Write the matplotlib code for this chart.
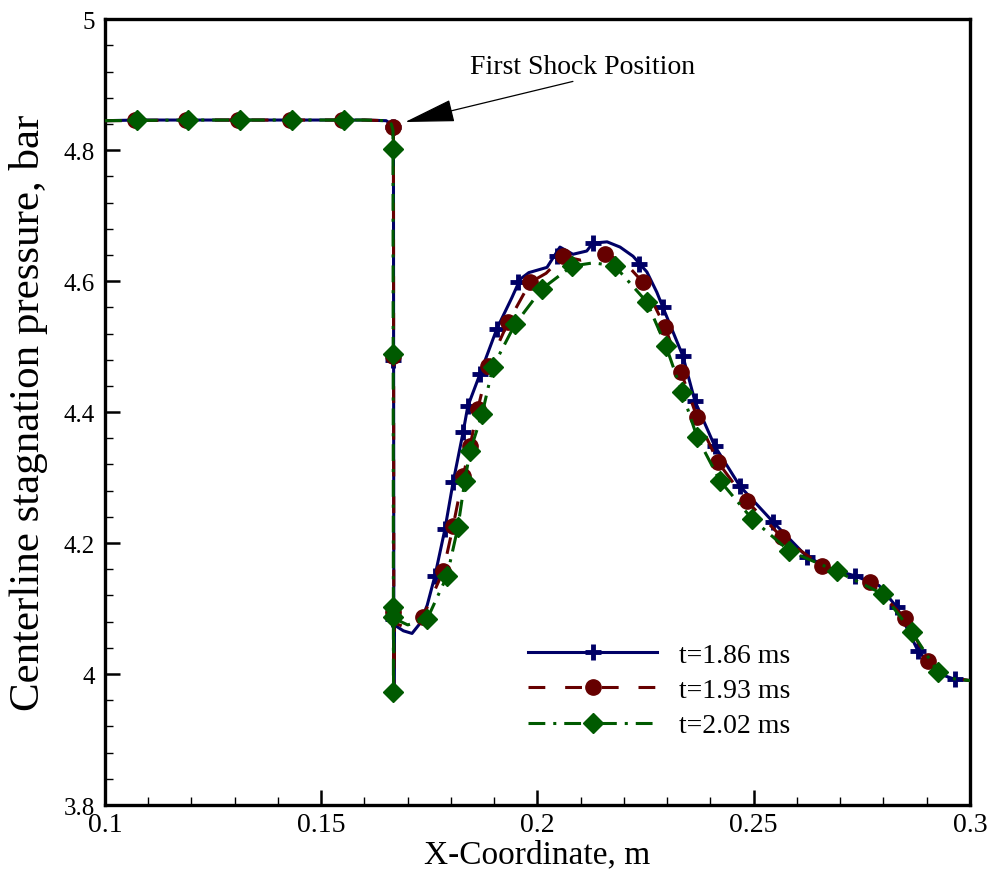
import numpy as np
import matplotlib
matplotlib.use('Agg')
from matplotlib import pyplot as plt
from matplotlib.lines import Line2D

plt.rcParams['font.family'] = ['Liberation Serif', 'DejaVu Serif']

# t=1.86 ms (solid line + plus markers)
x186_line = [0.1000, 0.1074, 0.1200, 0.1400, 0.1600, 0.1650, 0.1662, 0.1667, 0.1668, 0.1669,
             0.1690, 0.1710, 0.1728, 0.1745, 0.1763, 0.1786, 0.1805, 0.1828, 0.1839, 0.1867,
             0.1906, 0.1941, 0.1960, 0.1980, 0.2022, 0.2052, 0.2082, 0.2114, 0.2128, 0.2161,
             0.2191, 0.2221, 0.2253, 0.2276, 0.2290, 0.2336, 0.2364, 0.2410, 0.2468, 0.2545,
             0.2623, 0.2680, 0.2734, 0.2790, 0.2831, 0.2880, 0.2930, 0.2965, 0.3000]
y186_line = [4.845, 4.846, 4.846, 4.846, 4.846, 4.845, 4.840, 4.830, 3.970, 4.075,
             4.066, 4.062, 4.077, 4.105, 4.150, 4.221, 4.293, 4.369, 4.409, 4.458,
             4.527, 4.575, 4.603, 4.613, 4.621, 4.652, 4.641, 4.646, 4.658, 4.660,
             4.652, 4.638, 4.614, 4.583, 4.560, 4.486, 4.417, 4.348, 4.287, 4.232,
             4.179, 4.160, 4.150, 4.135, 4.102, 4.035, 4.000, 3.992, 3.990]
x186_mk = [0.1074, 0.1192, 0.1312, 0.1432, 0.1553, 0.1666, 0.1666, 0.1666, 0.1763, 0.1786,
           0.1805, 0.1828, 0.1839, 0.1867, 0.1906, 0.1955, 0.2045, 0.2128, 0.2235, 0.2290,
           0.2336, 0.2364, 0.2410, 0.2468, 0.2545, 0.2623, 0.2734, 0.2831, 0.2880, 0.2965]
y186_mk = [4.846, 4.846, 4.846, 4.846, 4.846, 4.835, 4.479, 4.084, 4.150, 4.221,
           4.293, 4.369, 4.409, 4.458, 4.527, 4.598, 4.638, 4.658, 4.626, 4.560,
           4.486, 4.417, 4.348, 4.287, 4.232, 4.179, 4.150, 4.102, 4.035, 3.992]

# t=1.93 ms (dashed line + circles)
x193_line = [0.1000, 0.1200, 0.1400, 0.1600, 0.1650, 0.1662, 0.1667, 0.1668, 0.1669, 0.1700,
             0.1735, 0.1782, 0.1805, 0.1828, 0.1844, 0.1862, 0.1886, 0.1932, 0.1983, 0.2020,
             0.2059, 0.2100, 0.2156, 0.2200, 0.2244, 0.2295, 0.2332, 0.2369, 0.2417, 0.2484,
             0.2565, 0.2658, 0.2769, 0.2850, 0.2903, 0.2950, 0.3000]
y193_line = [4.845, 4.846, 4.846, 4.846, 4.845, 4.840, 4.832, 3.972, 4.078, 4.070,
             4.087, 4.157, 4.226, 4.302, 4.348, 4.405, 4.470, 4.537, 4.598, 4.612,
             4.638, 4.632, 4.641, 4.630, 4.598, 4.530, 4.461, 4.392, 4.324, 4.264,
             4.209, 4.165, 4.140, 4.085, 4.020, 3.995, 3.990]
x193_mk = [0.1070, 0.1188, 0.1308, 0.1428, 0.1549, 0.1667, 0.1666, 0.1665, 0.1735, 0.1782,
           0.1805, 0.1828, 0.1844, 0.1862, 0.1886, 0.1932, 0.1983, 0.2059, 0.2156, 0.2244,
           0.2295, 0.2332, 0.2369, 0.2417, 0.2484, 0.2565, 0.2658, 0.2769, 0.2850, 0.2903]
y193_mk = [4.846, 4.846, 4.846, 4.846, 4.846, 4.835, 4.485, 4.095, 4.087, 4.157,
           4.226, 4.302, 4.348, 4.405, 4.470, 4.537, 4.598, 4.638, 4.641, 4.598,
           4.530, 4.461, 4.392, 4.324, 4.264, 4.209, 4.165, 4.140, 4.085, 4.020]

# t=2.02 ms (dash-dot line + diamonds)
x202_line = [0.1000, 0.1200, 0.1400, 0.1600, 0.1650, 0.1662, 0.1666, 0.1667, 0.1668, 0.1700,
             0.1745, 0.1791, 0.1816, 0.1832, 0.1844, 0.1872, 0.1897, 0.1948, 0.2010, 0.2080,
             0.2130, 0.2179, 0.2253, 0.2297, 0.2334, 0.2369, 0.2422, 0.2496, 0.2582, 0.2692,
             0.2799, 0.2866, 0.2926, 0.2960, 0.3000]
y202_line = [4.845, 4.846, 4.846, 4.846, 4.845, 4.840, 4.830, 3.973, 4.085, 4.075,
             4.084, 4.150, 4.224, 4.295, 4.340, 4.397, 4.469, 4.534, 4.588, 4.623,
             4.628, 4.623, 4.568, 4.501, 4.431, 4.362, 4.295, 4.237, 4.188, 4.157,
             4.122, 4.064, 4.003, 3.993, 3.990]
x202_mk = [0.1074, 0.1192, 0.1312, 0.1432, 0.1553, 0.1666, 0.1666, 0.1666, 0.1667, 0.1667,
           0.1745, 0.1791, 0.1816, 0.1832, 0.1844, 0.1872, 0.1897, 0.1948, 0.2010, 0.2080,
           0.2179, 0.2253, 0.2297, 0.2334, 0.2369, 0.2422, 0.2496, 0.2582, 0.2692, 0.2799,
           0.2866, 0.2926]
y202_mk = [4.846, 4.846, 4.846, 4.846, 4.846, 4.802, 4.489, 4.102, 4.087, 3.973,
           4.084, 4.150, 4.224, 4.295, 4.340, 4.397, 4.469, 4.534, 4.588, 4.623,
           4.623, 4.568, 4.501, 4.431, 4.362, 4.295, 4.237, 4.188, 4.157, 4.122,
           4.064, 4.003]

labels = ['t=1.86 ms', 't=1.93 ms', 't=2.02 ms']
blue, red, green = '#000066', '#660000', '#005a00'

fig = plt.figure(figsize=(9.92, 8.78), dpi=100)
ax = fig.add_axes([0.1058, 0.082, 0.872, 0.895])

lw = 2.2
ls_red = (0, (5.5, 6.5))
ls_green = (0, (5.5, 2.6, 1.0, 2.6))

ax.plot(x186_line, y186_line, color=blue, lw=lw, solid_joinstyle='round', zorder=2)
ax.plot(x186_mk, y186_mk, ls='none', marker='+', ms=11, mew=3.5, color=blue, zorder=3)
ax.plot(x193_line, y193_line, color=red, lw=lw, ls=ls_red, zorder=4)
ax.plot(x193_mk, y193_mk, ls='none', marker='o', ms=11, color=red, mec=red, zorder=5)
ax.plot(x202_line, y202_line, color=green, lw=lw, ls=ls_green, zorder=6)
ax.plot(x202_mk, y202_mk, ls='none', marker='D', ms=10.5, color=green, mec=green, zorder=7)

handles = [Line2D([], [], color=blue, lw=lw, marker='+', ms=11, mew=3.5),
           Line2D([], [], color=red, lw=lw, ls=ls_red, marker='o', ms=11),
           Line2D([], [], color=green, lw=lw, ls=ls_green, marker='D', ms=10.5)]
ax.legend(handles, labels, loc='center left', bbox_to_anchor=(0.489, 0.146), frameon=False,
          fontsize=20, numpoints=1, handlelength=4.65, handletextpad=0.8, labelspacing=0.36,
          borderpad=0, borderaxespad=0)

ax.annotate('', xy=(0.1694, 4.843), xytext=(0.2082, 4.905),
            arrowprops=dict(arrowstyle='-|>,head_length=1.6,head_width=0.36', color='black',
                            lw=0.9, shrinkA=0, shrinkB=0, mutation_scale=20))
ax.text(0.2105, 4.928, 'First Shock Position', fontsize=20, ha='center', va='center')

ax.set_xlim(0.1, 0.3)
ax.set_ylim(3.8, 5.0)
ax.set_xticks([0.1, 0.15, 0.2, 0.25, 0.3])
ax.set_xticklabels(['0.1', '0.15', '0.2', '0.25', '0.3'])
ax.set_xticks(np.arange(0.1, 0.3001, 0.01), minor=True)
ax.set_yticks([3.8, 4.0, 4.2, 4.4, 4.6, 4.8, 5.0])
ax.set_yticklabels(['3.8', '4', '4.2', '4.4', '4.6', '4.8', '5'])
ax.set_yticks(np.arange(3.8, 5.0001, 0.04), minor=True)
ax.tick_params(which='both', direction='in', top=False, right=False)
ax.tick_params(which='major', length=11, width=1.8)
ax.tick_params(which='minor', length=6, width=1.0)
ax.tick_params(axis='x', labelsize=20, pad=5)
ax.tick_params(axis='y', labelsize=18, pad=7)
for s in ax.spines.values():
    s.set_linewidth(2.4)

ax.set_xlabel('X-Coordinate, m', fontsize=24, labelpad=1)
ax.set_ylabel('Centerline stagnation pressure, bar', fontsize=31)
ax.yaxis.set_label_coords(-0.066, 0.5)

fig.savefig('out.png', dpi=100)
